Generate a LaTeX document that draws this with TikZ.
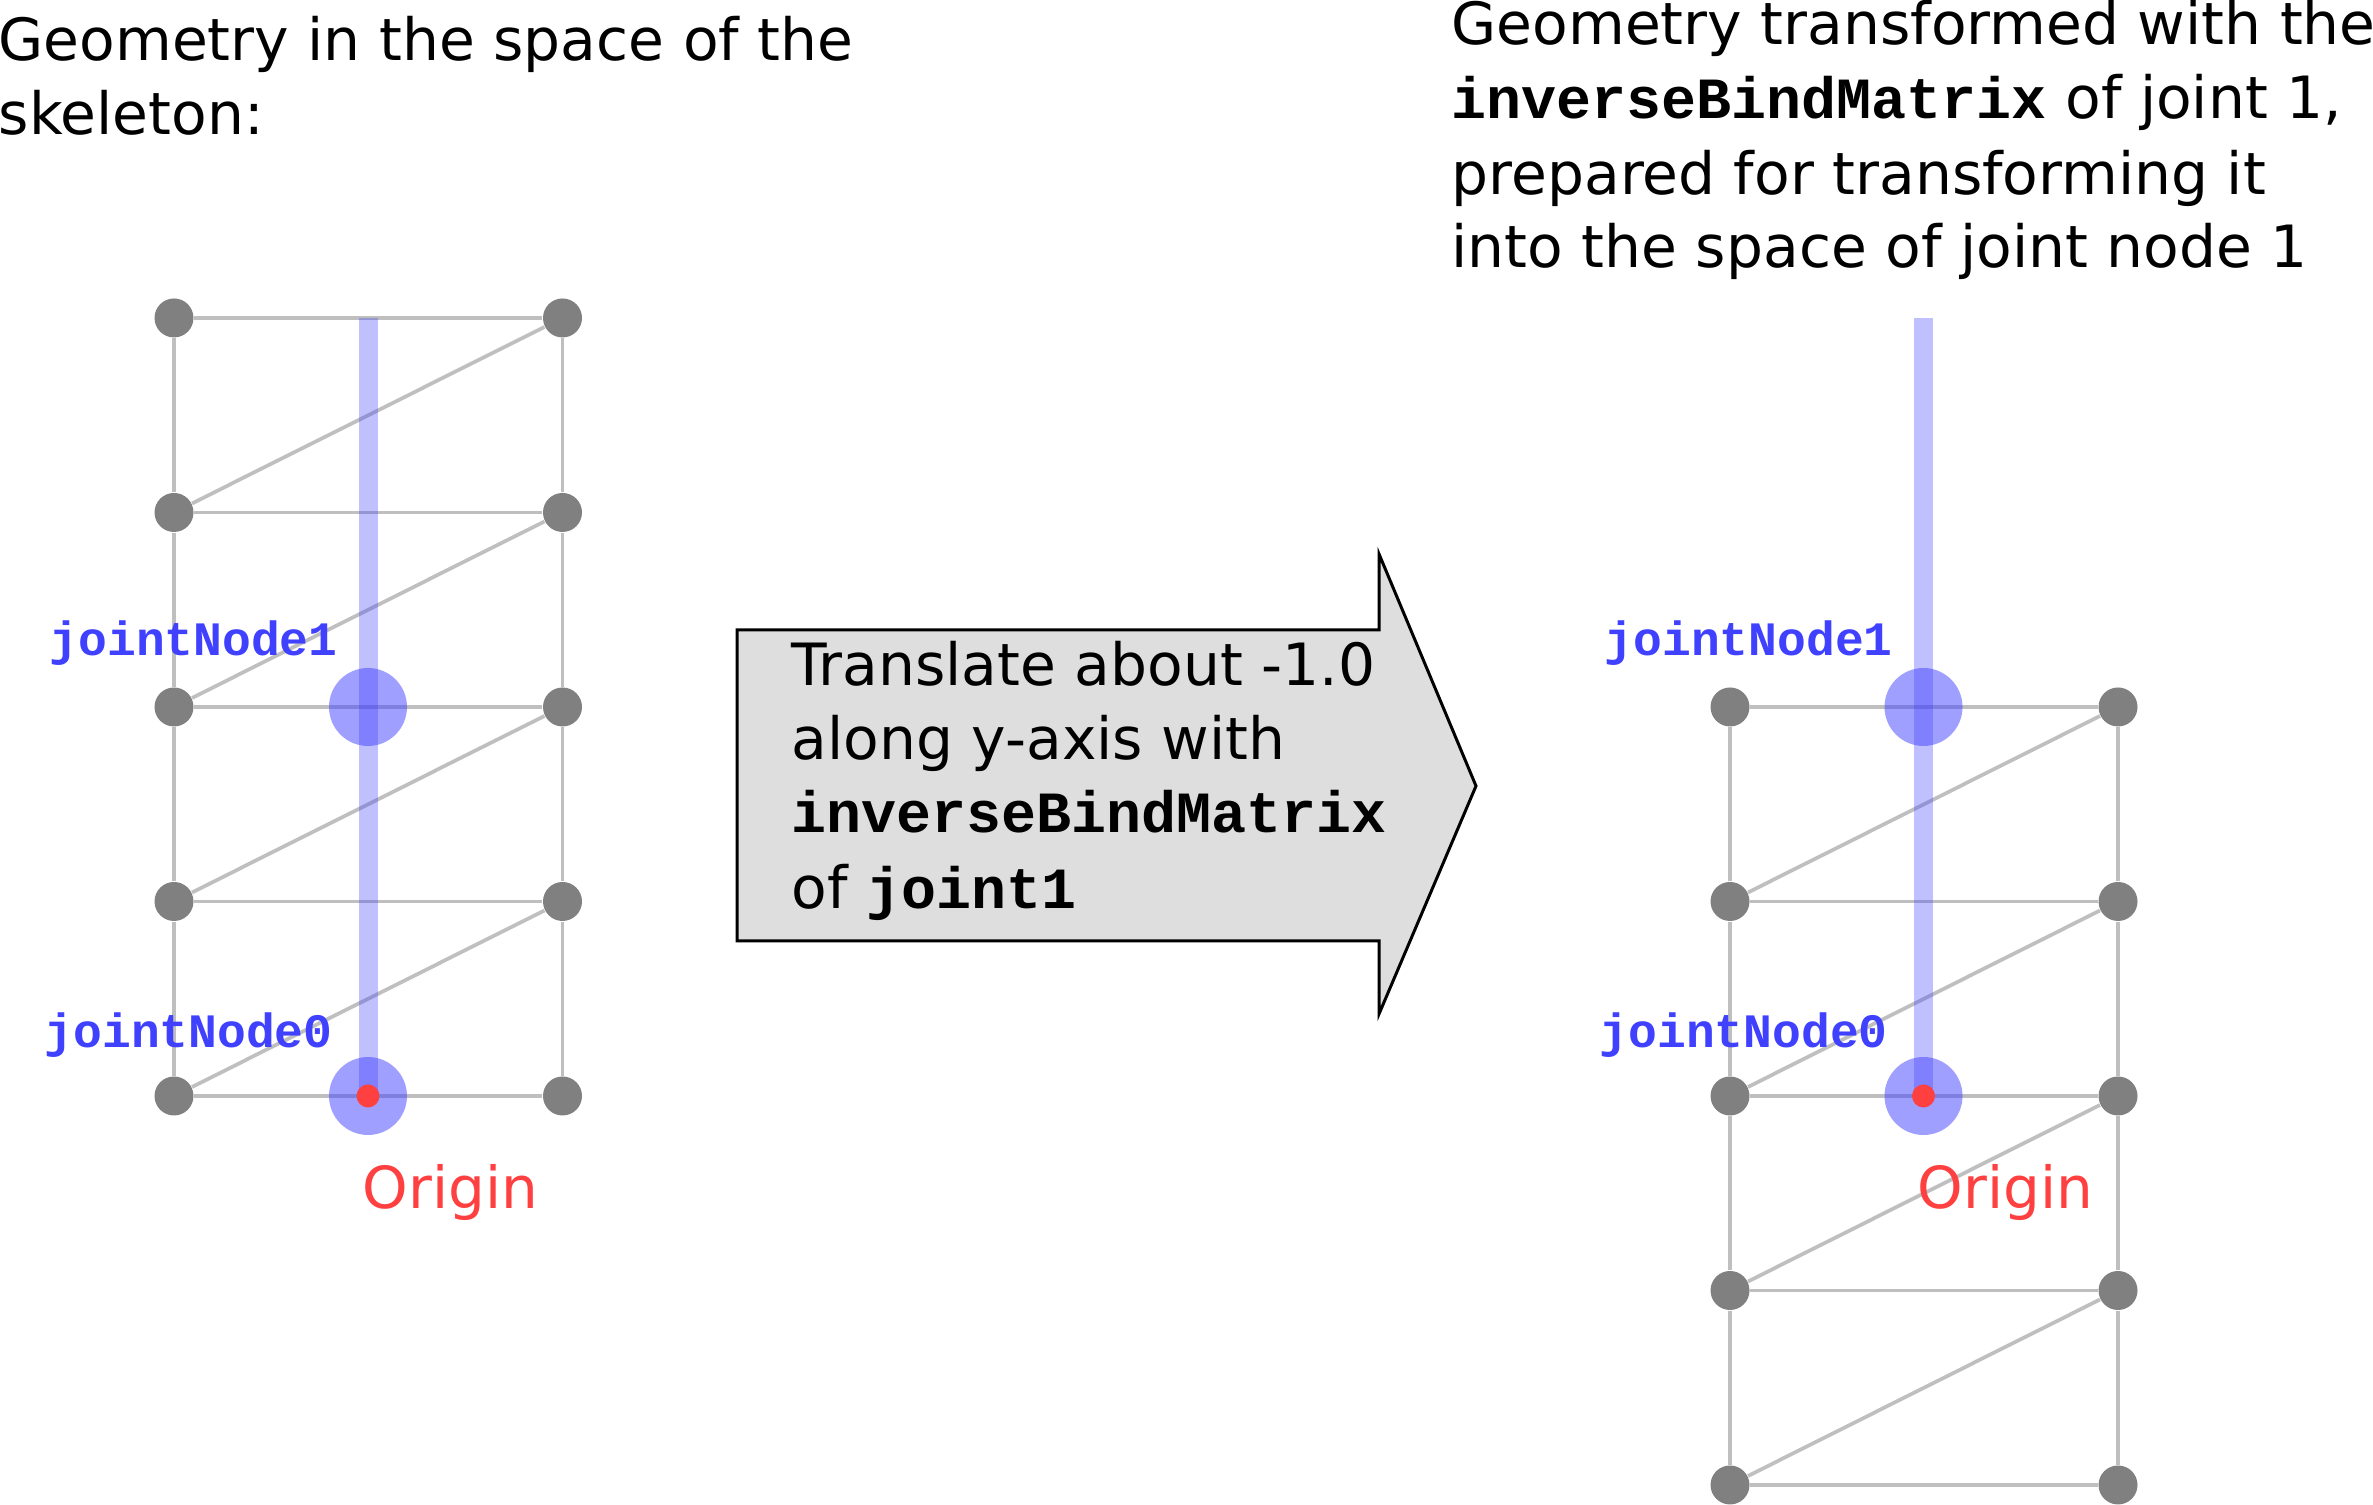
\documentclass[tikz,border=0pt]{standalone}
\usepackage{fontspec}
\setmainfont{DejaVu Sans}
\setmonofont{Liberation Mono}
\usetikzlibrary{calc,positioning}
\definecolor{dotgray}{RGB}{128,128,128}
\definecolor{jointblue}{RGB}{64,64,255}
\definecolor{originred}{RGB}{255,64,64}
\definecolor{arrowgray}{RGB}{222,222,222}
\newcommand{\code}[1]{{\ttfamily\bfseries\fontsize{16.6}{20}\selectfont #1}}

\begin{document}
\begin{tikzpicture}[
    dotnode/.style={circle,fill=dotgray,inner sep=0,minimum size=0.39cm},
    wire/.style={black,opacity=0.25,line width=1.05pt},
    jointnode/.style={circle,fill=jointblue,opacity=0.5,inner sep=0,minimum size=0.78cm},
    bone/.style={jointblue,opacity=0.33,line width=0.19cm},
    originnode/.style={circle,fill=originred,inner sep=0,minimum size=0.23cm},
    jointlabel/.style={jointblue,anchor=base west,inner sep=0,font=\ttfamily\bfseries\fontsize{13.65}{16}\selectfont},
    originlabel/.style={originred,anchor=base west,inner sep=0,font=\fontsize{16.5}{20}\selectfont},
    textlabel/.style={anchor=north west,inner sep=0,align=left,font=\fontsize{16.58}{20.8}\selectfont}]
    \useasboundingbox (0,0) rectangle (23.73,15.05);

    % the two grids
    \foreach \side/\xa/\xb/\yb in {l/1.74/5.625/4.09, r/17.30/21.18/0.20} {
        \foreach \i in {0,...,4} {
            \node[dotnode] (\side a\i) at (\xa,\yb+\i*1.945) {};
            \node[dotnode] (\side b\i) at (\xb,\yb+\i*1.945) {};
            \draw[wire] (\side a\i) -- (\side b\i);
        }
        \foreach \i/\j in {0/1,1/2,2/3,3/4} {
            \draw[wire] (\side a\i) -- (\side a\j);
            \draw[wire] (\side b\i) -- (\side b\j);
            \draw[wire] (\side a\i) -- (\side b\j);
        }
    }

    % joints
    \foreach \side/\x in {l/3.68, r/19.235} {
        \coordinate (\side top) at (\x,11.87);
        \node[jointnode] (\side joint0) at (\x,4.09) {};
        \node[jointnode] (\side joint1) at (\x,7.98) {};
        \draw[bone] (\side top) -- (\side joint0.center);
        \node[originnode] (\side origin) at (\x,4.09) {};
    }

    \node[jointlabel] (ljointa) at (0.49,8.49) {jointNode1};
    \node[jointlabel] (ljointb) at (0.44,4.57) {jointNode0};
    \node[jointlabel] (rjointa) at (16.04,8.49) {jointNode1};
    \node[jointlabel] (rjointb) at (15.99,4.57) {jointNode0};
    \node[originlabel] (loriginlabel) at (3.62,2.96) {Origin};
    \node[originlabel] (roriginlabel) at (19.17,2.96) {Origin};

    % arrow
    \draw[fill=arrowgray,line width=0.85pt] (7.37,8.75) -- (13.79,8.75) -- (13.79,9.51)
        -- (14.76,7.19) -- (13.79,4.91) -- (13.79,5.64) -- (7.37,5.64) -- cycle;

    \node[textlabel] (lefttext) at (-0.02,14.89) {Geometry in the space of the\\skeleton:};
    \node[textlabel] (righttext) at (14.51,15.05) {Geometry transformed with the\\
        \code{inverseBindMatrix} of joint 1,\\[1pt]
        prepared for transforming it\\
        into the space of joint node 1};
    \node[textlabel] (arrowtext) at (7.91,8.64) {Translate about -1.0\\
        along y-axis with\\
        \code{inverseBindMatrix}\\[1pt]
        of \code{joint1}};
\end{tikzpicture}
\end{document}
